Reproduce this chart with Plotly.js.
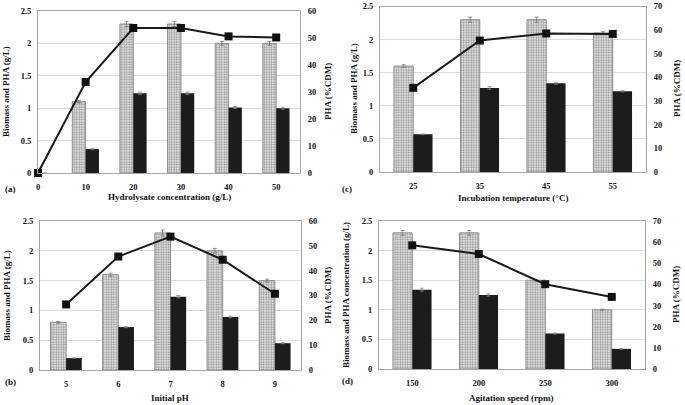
<!DOCTYPE html>
<html><head><meta charset="utf-8">
<script src="https://cdn.plot.ly/plotly-3.0.1.min.js"></script>
<style>html,body{margin:0;padding:0;background:#fff}#chart{width:685px;height:405px}</style>
</head><body><div id="chart"></div>
<script>
// Panel (a): hydrolysate concentration
const catA = [0, 10, 20, 30, 40, 50];
const bioA = [0, 1.1, 2.3, 2.3, 2.0, 2.0];
const bioAErr = [0, 0.02, 0.04, 0.04, 0.03, 0.03];
const phaA = [0, 0.37, 1.23, 1.23, 1.01, 1.0];
const phaAErr = [0, 0.01, 0.02, 0.02, 0.015, 0.015];
const pctA = [0, 33.7, 53.7, 53.7, 50.6, 50.2];
// Panel (b): initial pH
const catB = ['5', '6', '7', '8', '9'];
const bioB = [0.8, 1.6, 2.3, 2.0, 1.5];
const bioBErr = [0.015, 0.025, 0.05, 0.04, 0.025];
const phaB = [0.2, 0.72, 1.23, 0.89, 0.45];
const phaBErr = [0.005, 0.01, 0.02, 0.015, 0.008];
const pctB = [26.4, 45.7, 53.7, 44.4, 30.7];
// Panel (c): incubation temperature
const catC = ['25', '35', '45', '55'];
const bioC = [1.6, 2.3, 2.3, 2.1];
const bioCErr = [0.02, 0.04, 0.04, 0.02];
const phaC = [0.57, 1.27, 1.34, 1.22];
const phaCErr = [0.005, 0.02, 0.015, 0.01];
const pctC = [35.6, 55.6, 58.6, 58.4];
// Panel (d): agitation speed
const catD = ['150', '200', '250', '300'];
const bioD = [2.3, 2.3, 1.5, 1.0];
const bioDErr = [0.04, 0.04, 0.015, 0.01];
const phaD = [1.34, 1.25, 0.6, 0.34];
const phaDErr = [0.025, 0.02, 0.008, 0.005];
const pctD = [58.5, 54.4, 40.1, 34.1];

const W = 685, H = 405;
const FONT = '"Liberation Serif", "Times New Roman", serif';
const tickFont = {family: FONT, size: 8.5, color: '#111', weight: 'bold'};

function traces(xa, ya, yb, x, bio, bioErr, pha, phaErr, pct, w) {
  return [
    {type: 'bar', x: x, y: bio, xaxis: xa, yaxis: ya, width: w, offset: -w,
     marker: {color: '#e0e0e0', line: {color: '#8c8c8c', width: 1},
              pattern: {shape: '.', fgcolor: '#8f8f8f', bgcolor: '#ececec', size: 2.5, solidity: 0.45}},
     error_y: {type: 'data', array: bioErr, visible: true, color: '#777', thickness: 0.8, width: 2},
     showlegend: false, hoverinfo: 'none'},
    {type: 'bar', x: x, y: pha, xaxis: xa, yaxis: ya, width: w, offset: 0,
     marker: {color: '#1c1c1c', line: {width: 0}},
     error_y: {type: 'data', array: phaErr, visible: true, color: '#888', thickness: 0.8, width: 2},
     showlegend: false, hoverinfo: 'none'},
    {type: 'scatter', mode: 'lines+markers', x: x, y: pct, xaxis: xa, yaxis: yb,
     line: {color: '#1a1a1a', width: 2}, marker: {symbol: 'square', size: 8, color: '#111'},
     cliponaxis: false, showlegend: false, hoverinfo: 'none'}
  ];
}

const data = [].concat(
  traces('x', 'y', 'y2', catA, bioA, bioAErr, phaA, phaAErr, pctA, 2.8),
  traces('x2', 'y3', 'y4', catC, bioC, bioCErr, phaC, phaCErr, pctC, 0.29),
  traces('x3', 'y5', 'y6', catB, bioB, bioBErr, phaB, phaBErr, pctB, 0.3),
  traces('x4', 'y7', 'y8', catD, bioD, bioDErr, phaD, phaDErr, pctD, 0.29)
);

function xdom(a, b) { return [a / W, b / W]; }
function ydom(top, bot) { return [1 - bot / H, 1 - top / H]; }

function xax(dom, anchor, extra) {
  return Object.assign({domain: dom, anchor: anchor, showline: true, mirror: true, linecolor: '#a6a6a6', linewidth: 1,
    showgrid: false, zeroline: false, ticks: 'outside', ticklen: 6, tickcolor: 'rgba(0,0,0,0)',
    tickfont: tickFont, fixedrange: true}, extra);
}
function yl(dom, anchor, range, dtick) {
  return {domain: dom, anchor: anchor, range: range, dtick: dtick, showline: true, mirror: true,
    linecolor: '#a6a6a6', linewidth: 1, showgrid: true, gridcolor: '#dcdcdc', gridwidth: 1,
    zeroline: false, ticks: 'outside', ticklen: 4, tickcolor: 'rgba(0,0,0,0)', tickfont: tickFont,
    ticklabeloverflow: 'allow', fixedrange: true};
}
function yr(overlay, anchor, range, dtick) {
  return {overlaying: overlay, anchor: anchor, side: 'right', range: range, dtick: dtick,
    showline: false, showgrid: false, zeroline: false, ticks: 'outside', ticklen: 5,
    tickcolor: 'rgba(0,0,0,0)', tickfont: tickFont, ticklabeloverflow: 'allow', fixedrange: true};
}

const dA = ydom(11, 173), dC = ydom(6.5, 172), dB = ydom(221, 370), dD = ydom(221, 369);

const layout = {
  width: W, height: H, margin: {l: 0, r: 0, t: 0, b: 0},
  paper_bgcolor: '#fff', plot_bgcolor: '#fff', barmode: 'overlay',
  font: {family: FONT, color: '#111'},
  xaxis: xax(xdom(38, 300), 'y', {type: 'linear', range: [0, 55], tickvals: catA}),
  yaxis: yl(dA, 'x', [0, 2.5], 0.5),
  yaxis2: yr('y', 'x', [0, 60], 10),
  xaxis2: xax(xdom(380, 646), 'y3', {type: 'category', range: [-0.5, 3.5]}),
  yaxis3: yl(dC, 'x2', [0, 2.5], 0.5),
  yaxis4: yr('y3', 'x2', [0, 70], 10),
  xaxis3: xax(xdom(40, 301), 'y5', {type: 'category', range: [-0.5, 4.5]}),
  yaxis5: yl(dB, 'x3', [0, 2.5], 0.5),
  yaxis6: yr('y5', 'x3', [0, 60], 10),
  xaxis4: xax(xdom(379, 645), 'y7', {type: 'category', range: [-0.5, 3.5]}),
  yaxis7: yl(dD, 'x4', [0, 2.5], 0.5),
  yaxis8: yr('y7', 'x4', [0, 70], 10),
  annotations: []
};

function ann(text, x, y, rot, size) {
  layout.annotations.push({text: '<b>' + text + '</b>', xref: 'paper', yref: 'paper',
    x: x / W, y: 1 - y / H, xanchor: 'center', yanchor: 'middle', showarrow: false,
    textangle: rot || 0, font: {family: FONT, size: size || 9, color: '#111'}});
}
// x titles
ann('Hydrolysate concentration (g/L)', 169, 197);
ann('Incubation temperature (°C)', 513, 198);
ann('Initial pH', 170, 398);
ann('Agitation speed (rpm)', 512, 398);
// left y titles
ann('Biomass and PHA (g/L)', 6, 92, -90);
ann('Biomass and PHA (g/L)', 354, 89, -90);
ann('Biomass and PHA (g/L)', 7, 296, -90);
ann('Biomass and PHA concentration (g/L)', 346, 295, -90);
// right y titles
ann('PHA (%CDM)', 328, 92, -90);
ann('PHA (%CDM)', 677, 89, -90);
ann('PHA (%CDM)', 328, 296, -90);
ann('PHA (%CDM)', 676, 295, -90);
// panel labels
ann('(a)', 10, 189);
ann('(c)', 347, 189);
ann('(b)', 10, 382);
ann('(d)', 347, 381);

Plotly.newPlot('chart', data, layout, {staticPlot: true, displayModeBar: false});
</script></body></html>
